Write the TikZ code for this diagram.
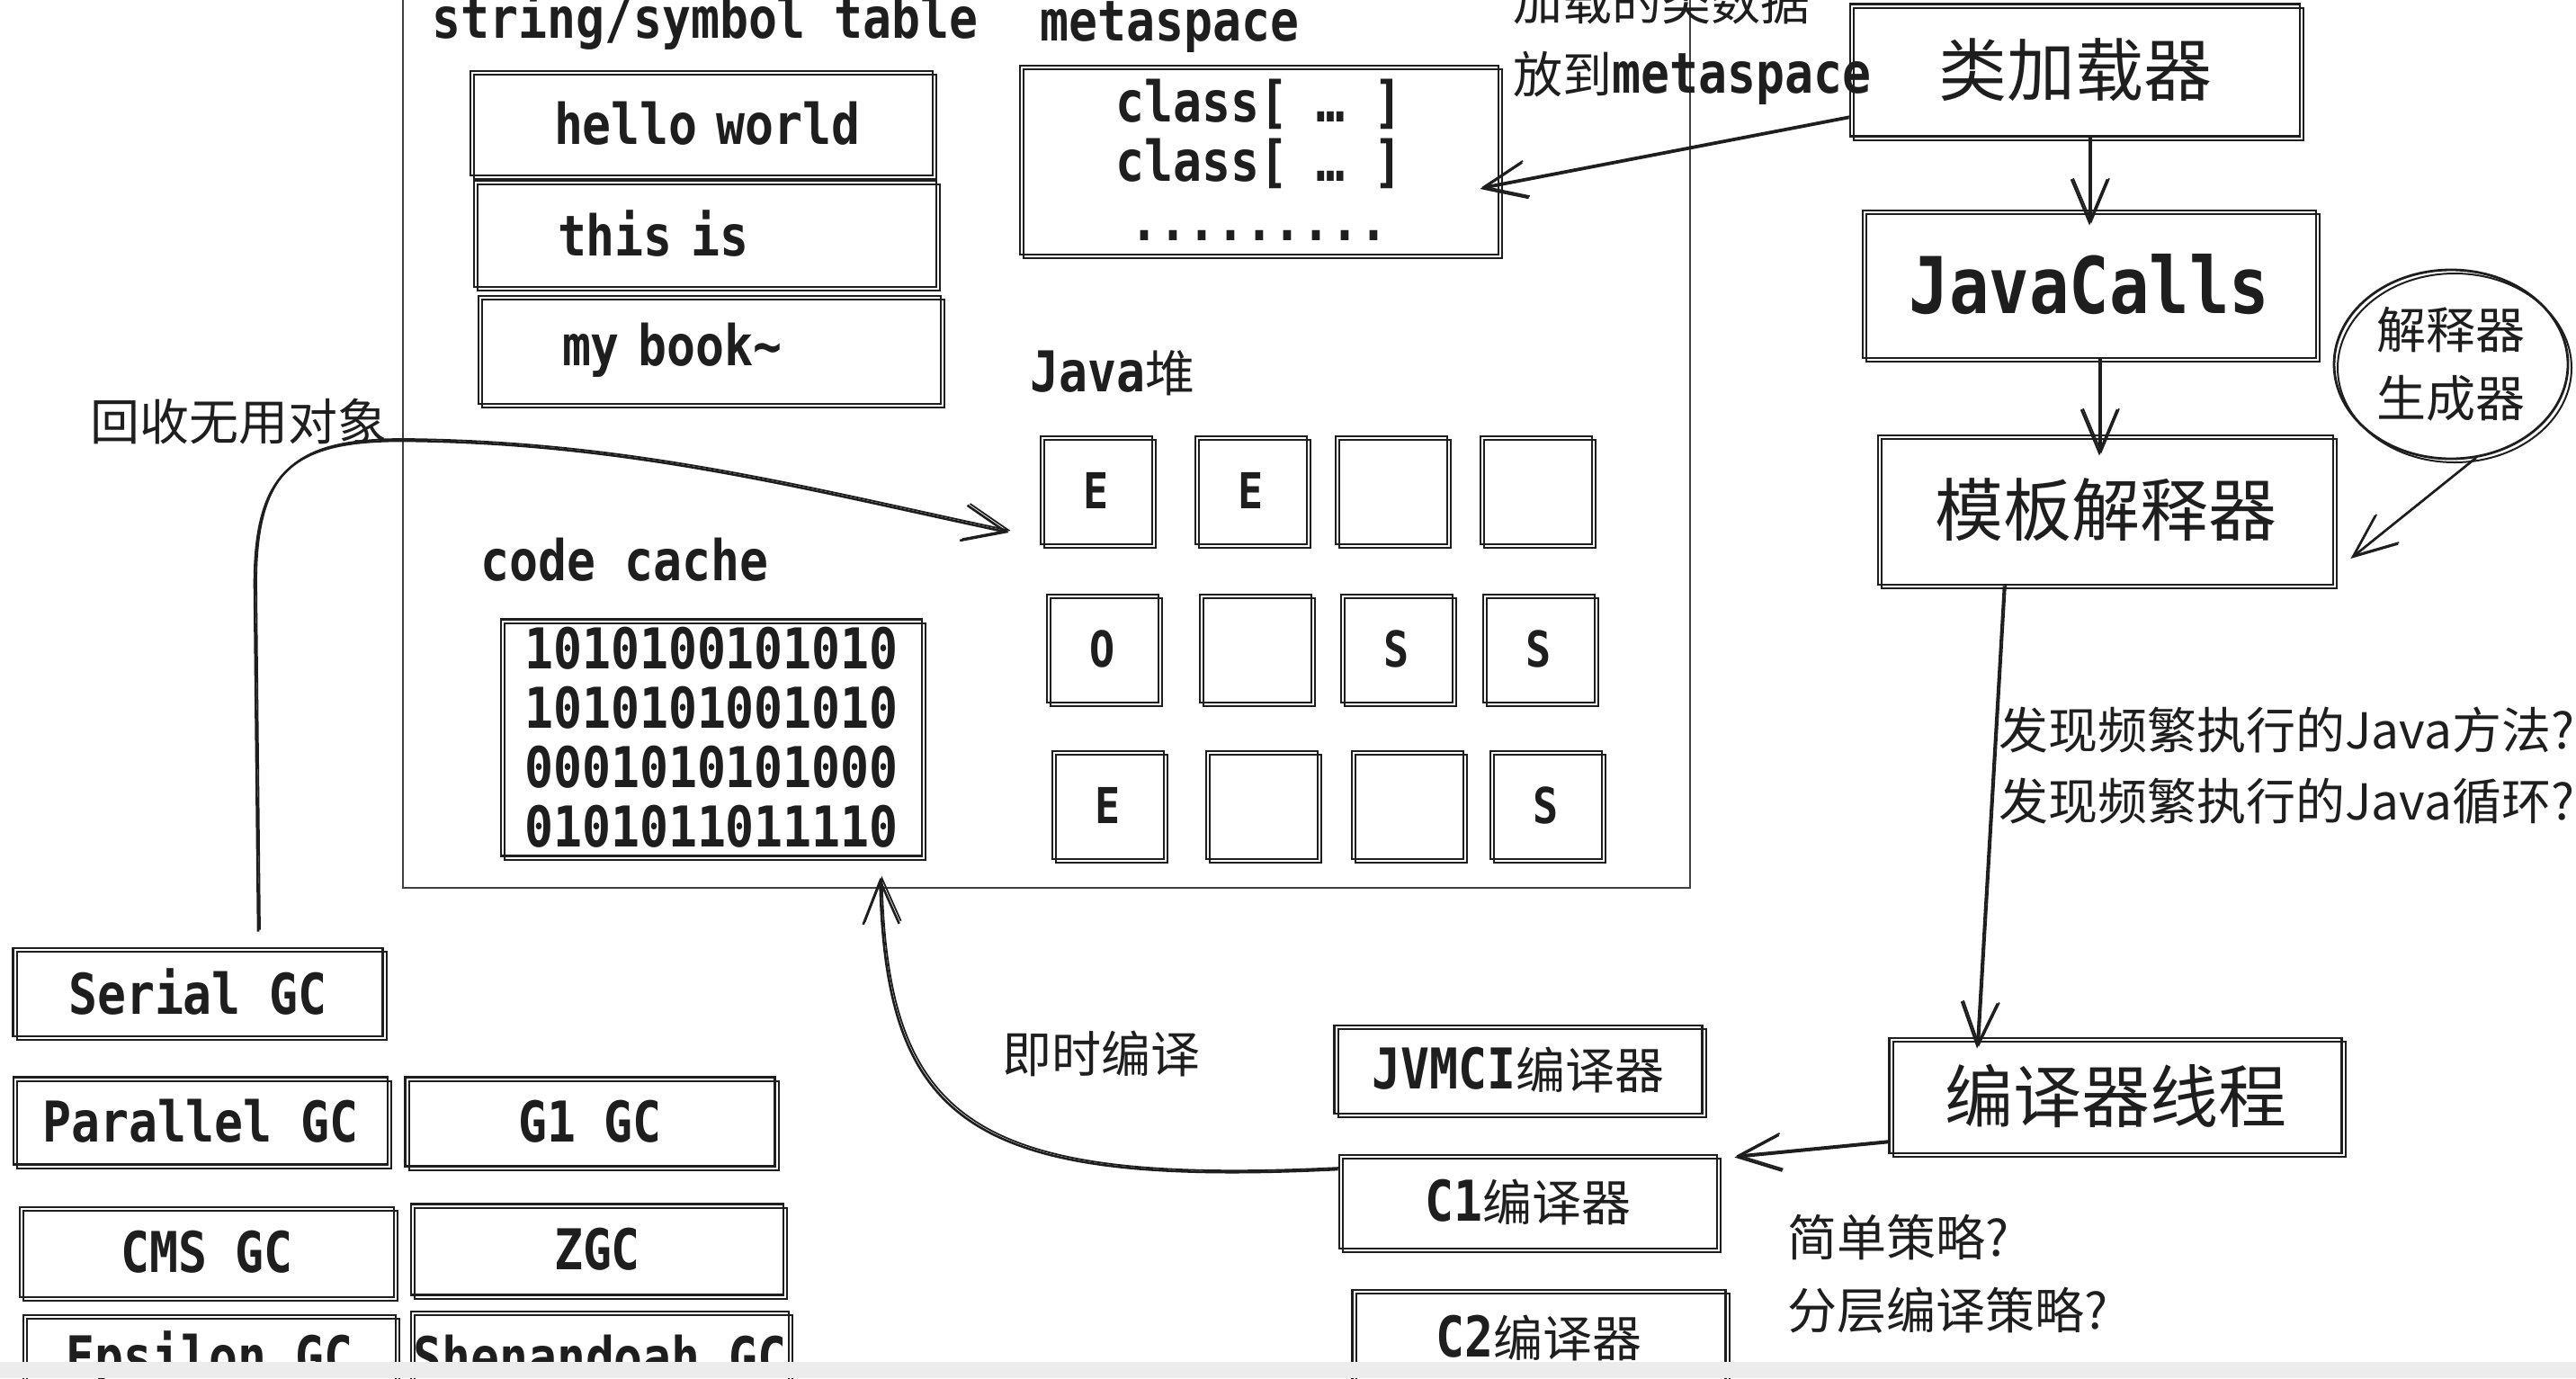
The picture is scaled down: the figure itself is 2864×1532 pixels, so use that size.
\documentclass[tikz,border=0pt]{standalone}
\usepackage{fontspec}
\setmainfont{Noto Sans CJK SC}
\newfontfamily\mono{DejaVu Sans Mono}[FakeStretch=0.85]
\usetikzlibrary{arrows.meta,shapes.geometric,calc}
\definecolor{ink}{HTML}{1E1E1E}
\definecolor{stripgray}{HTML}{ECECEC}
\newcommand\mtx[1]{{\mono\bfseries\fontsize{62.5}{66}\selectfont #1}}
\begin{document}
\begin{tikzpicture}[x=1pt,y=-1pt,
  sk/.style={draw=ink, line width=2.8pt, text=ink, inner sep=0pt,
    preaction={draw=ink, line width=2pt, transform canvas={shift={(4pt,-4pt)}}}},
  monofont/.style={font=\mono\bfseries\fontsize{62.5}{66}\selectfont},
  heap/.style={sk, minimum width=124pt, minimum height=120pt, font=\mono\bfseries\fontsize{55}{60}\selectfont},
  gcbox/.style={sk, monofont},
  big/.style={sk, font=\fontsize{76}{80}\selectfont},
  comp/.style={sk, font=\fontsize{55}{60}\selectfont},
  strbox/.style={sk, monofont, minimum width=514pt, text width=420pt, inner xsep=47pt, align=left},
  lbl/.style={inner sep=0pt, anchor=base west, text=ink, font=\fontsize{55}{60}\selectfont},
  mlbl/.style={inner sep=0pt, anchor=base west, text=ink, monofont},
  arr/.style={draw=ink, line width=2.6pt, -{Straight Barb[length=48pt,width=40pt]},
    postaction={draw=ink, line width=1.8pt, transform canvas={shift={(2pt,2pt)}}}},
  frame/.style={draw=ink!85, line width=2pt},
]
\useasboundingbox (0,0) rectangle (2864,1532);
\fill[white] (0,0) rectangle (2864,1532);
\clip (0,0) rectangle (2864,1532);

% runtime data area frame
\node[frame, minimum width=1431pt, minimum height=1040pt, anchor=south west] (rt) at (447,988) {};

% string / symbol table
\node[mlbl] (tstr) at (480,42) {string/symbol table};
\node[strbox, minimum height=116pt] (s1) at (780,137) {\hspace*{46pt}hello world};
\node[strbox, minimum height=118pt] (s2) at (784,260) {\hspace*{46pt}this is};
\node[strbox, minimum height=120pt] (s3) at (789,389) {\hspace*{46pt}my book{\char"7E}};

% metaspace
\node[mlbl] (tmeta) at (1156,45) {metaspace};
\node[sk, monofont, minimum width=532pt, minimum height=210pt, align=center] (meta) at (1400,178) {class[ … ]\\class[ … ]\\.........};

% code cache
\node[mlbl] (tcc) at (534,645) {code cache};
\node[sk, monofont, minimum width=468pt, minimum height=263pt, align=center] (cc) at (791,820) {1010100101010\\1010101001010\\0001010101000\\0101011011110};

% java heap
\node[lbl] (theap) at (1145,435) {\mtx{Java}堆};
\node[heap] (h11) at (1219,545) {E};
\node[heap] (h12) at (1391,545) {E};
\node[heap] (h13) at (1547,545) {};
\node[heap] (h14) at (1708,545) {};
\node[heap] (h21) at (1226,721) {O};
\node[heap] (h22) at (1396,721) {};
\node[heap] (h23) at (1553,721) {S};
\node[heap] (h24) at (1711,721) {S};
\node[heap] (h31) at (1232,895) {E};
\node[heap] (h32) at (1403,895) {};
\node[heap] (h33) at (1565,895) {};
\node[heap] (h34) at (1719,895) {S};

% right column
\node[big, minimum width=500pt, minimum height=147pt] (cl) at (2307,78) {类加载器};
\node[big, minimum width=504pt, minimum height=164pt, font=\mono\bfseries\fontsize{87}{90}\selectfont] (jc) at (2323,316) {JavaCalls};
\node[big, minimum width=506pt, minimum height=166pt] (ti) at (2341,567) {模板解释器};
\node[sk, ellipse, minimum width=260pt, minimum height=210pt, align=center, font=\fontsize{55}{76}\selectfont] (gen) at (2725,405) {解释器\\生成器};
\node[big, minimum width=503pt, minimum height=128pt] (ct) at (2352,1218) {编译器线程};

% compilers
\node[comp, minimum width=409pt, minimum height=98pt] (jv) at (1688,1189) {\mtx{JVMCI}编译器};
\node[comp, minimum width=420pt, minimum height=104pt] (c1) at (1699,1336) {\mtx{C1}编译器};
\node[comp, minimum width=415pt, minimum height=106pt] (c2) at (1711,1487) {\mtx{C2}编译器};

% garbage collectors
\node[gcbox, minimum width=411pt, minimum height=98pt] (sg) at (220,1103) {Serial GC};
\node[gcbox, minimum width=416pt, minimum height=97pt] (pg) at (223,1246) {Parallel GC};
\node[gcbox, minimum width=411pt, minimum height=99pt] (g1) at (656,1247) {G1 GC};
\node[gcbox, minimum width=416pt, minimum height=100pt] (cms) at (230,1392) {CMS GC};
\node[gcbox, minimum width=414pt, minimum height=101pt] (zgc) at (664,1389) {ZGC};
\node[gcbox, minimum width=414pt, minimum height=100pt] (eps) at (233,1512) {Epsilon GC};
\node[gcbox, minimum width=420pt, minimum height=100pt] (shen) at (667,1508) {Shenandoah GC};

% labels
\node[lbl] (tgc) at (100,489) {回收无用对象};
\node[lbl] (tload1) at (1682,22) {加载的类数据};
\node[lbl] (tload2) at (1682,103) {放到\mtx{metaspace}};
\node[lbl] (thot1) at (2222,832) {发现频繁执行的Java方法?};
\node[lbl] (thot2) at (2222,911) {发现频繁执行的Java循环?};
\node[lbl] (tjit) at (1114,1192) {即时编译};
\node[lbl] (tpol1) at (1987,1396) {简单策略?};
\node[lbl] (tpol2) at (1987,1477) {分层编译策略?};

% connectors
\draw[arr] ([yshift=-53pt]cl.west) -- ([xshift=-22pt,yshift=-32pt]meta.east);
\draw[arr] (cl.south -| jc.north) -- ([yshift=-18pt]jc.north);
\draw[arr] ([xshift=11pt]jc.south) -- ([xshift=-7pt,yshift=-24pt]ti.north);
\draw[arr] (gen.-75) -- ([xshift=18pt,yshift=-54pt]ti.east);
\draw[arr] ([xshift=-113pt]ti.south) -- ([xshift=-154pt,yshift=-13pt]ct.north);
\draw[arr] ([yshift=-52pt]ct.west) -- ([xshift=18pt,yshift=-4pt]c1.north east);
\draw[arr] ([yshift=36pt]c1.west) .. controls (1080,1320) and (985,1250) .. ([xshift=-48pt,yshift=-23pt]cc.south east);
\draw[arr] ([xshift=67pt,yshift=17pt]sg.north) -- (283,650) .. controls (283,520) and (330,490) .. (447,490) .. controls (700,492) and (900,545) .. ([xshift=-34pt,yshift=-47pt]h11.west);

% bottom strip
\fill[stripgray] (0,1514) rectangle (2864,1532);
\end{tikzpicture}
\end{document}
